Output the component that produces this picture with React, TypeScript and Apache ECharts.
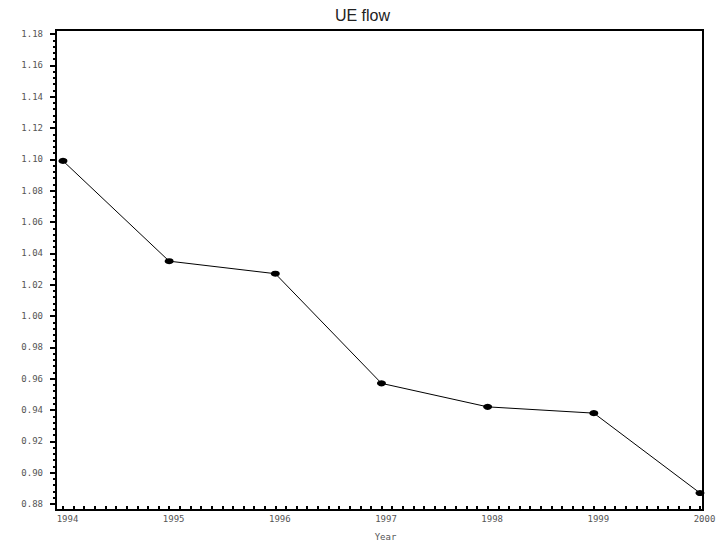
import React, { useEffect, useRef } from "react";
import * as echarts from "echarts";

const years = [1994, 1995, 1996, 1997, 1998, 1999, 2000];
const ueFlow = [1.099, 1.035, 1.027, 0.957, 0.942, 0.938, 0.887];
const yTicks = { min: 0.88, max: 1.18, interval: 0.02 };
const xTicks = { min: 1994, max: 2000, interval: 1 };

export default function App() {
  const ref = useRef<HTMLDivElement>(null);
  useEffect(() => {
    if (!ref.current) return;
    const chart = echarts.init(ref.current, null, { renderer: "svg" });
    const labelFont = { fontFamily: "DejaVu Sans Mono", fontSize: 9, color: "#555" };
    chart.setOption({
      animation: false,
      backgroundColor: "#fff",
      title: {
        text: "UE flow",
        left: "center",
        top: 2,
        textStyle: { fontFamily: "Liberation Sans", fontSize: 16, fontWeight: "normal", color: "#222" },
      },
      grid: { left: 63, right: 25, top: 34, bottom: 38, containLabel: false },
      xAxis: {
        type: "value",
        min: xTicks.min,
        max: xTicks.max,
        interval: xTicks.interval,
        offset: 2,
        name: "Year",
        nameLocation: "middle",
        nameGap: 26,
        nameTextStyle: { ...labelFont, padding: [0, 0, 0, 8] },
        axisLine: { show: false },
        axisTick: { show: true, inside: false, length: 5, lineStyle: { color: "#000", width: 2 } },
        minorTick: { show: true, splitNumber: 10, length: 3, lineStyle: { color: "#000", width: 2 } },
        splitLine: { show: false },
        axisLabel: { ...labelFont, margin: 8, padding: [0, 0, 0, 9], formatter: (v: number) => String(v) },
      },
      yAxis: {
        type: "value",
        min: yTicks.min,
        max: yTicks.max,
        interval: yTicks.interval,
        offset: 7,
        axisLine: { show: false },
        axisTick: { show: true, inside: false, length: 6, lineStyle: { color: "#000", width: 2 } },
        minorTick: { show: true, splitNumber: 5, length: 3, lineStyle: { color: "#000", width: 2 } },
        splitLine: { show: false },
        axisLabel: { ...labelFont, margin: 13, formatter: (v: number) => v.toFixed(2) },
      },
      graphic: [
        {
          type: "rect",
          shape: { x: 56, y: 30, width: 647, height: 480 },
          style: { fill: "none", stroke: "#000", lineWidth: 2 },
          silent: true,
          z: 10,
        },
      ],
      series: [
        {
          type: "line",
          data: years.map((y, i) => [y, ueFlow[i]]),
          symbol: "circle",
          symbolSize: [9, 6],
          showSymbol: true,
          clip: false,
          itemStyle: { color: "#000" },
          lineStyle: { color: "#000", width: 1 },
        },
      ],
    });
    return () => chart.dispose();
  }, []);
  return <div ref={ref} style={{ width: 725, height: 546, position: "absolute", left: 0, top: 0 }} />;
}
